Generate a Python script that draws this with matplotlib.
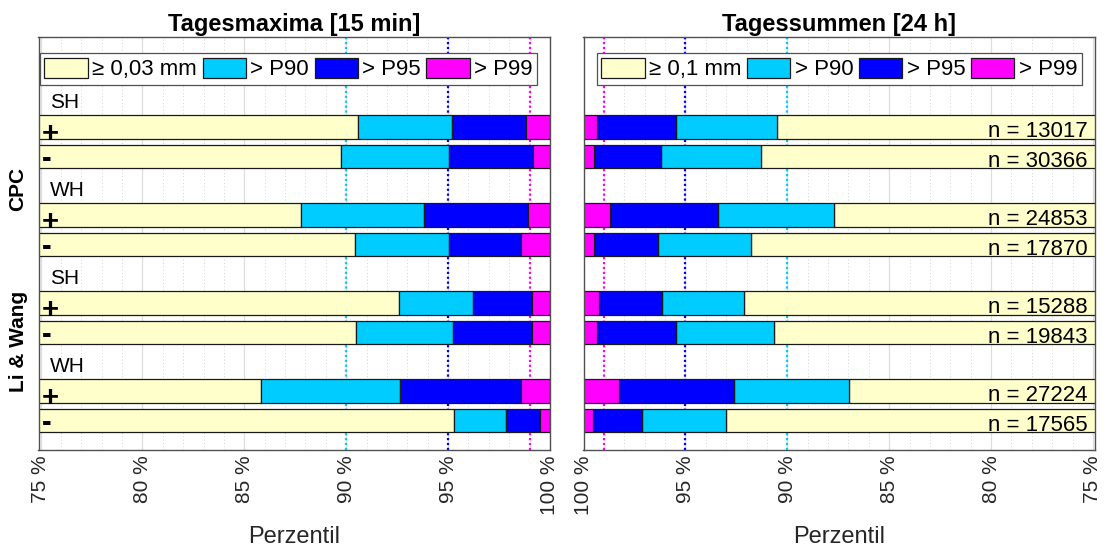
import matplotlib
matplotlib.use("Agg")
import matplotlib.pyplot as plt
from matplotlib.patches import Patch

plt.rcParams['font.family'] = ['Liberation Sans', 'DejaVu Sans']

# Row layout: CPC (SH+, SH-, WH+, WH-), Li & Wang (SH+, SH-, WH+, WH-)
signs = ["+", "-", "+", "-", "+", "-", "+", "-"]
row_pos = [3, 4, 6, 7, 9, 10, 12, 13]
season_labels = ["SH", "WH", "SH", "WH"]
season_label_pos = [2.15, 5.15, 8.15, 11.15]
group_labels = ["CPC", "Li & Wang"]
group_label_pos = [5.1, 10.3]

# Tagesmaxima [15 min]: percentile where each class starts
max_start_p90 = [90.6, 89.75, 87.8, 90.45, 92.6, 90.5, 85.8, 95.3]
max_start_p95 = [95.2, 95.05, 93.8, 95.05, 96.2, 95.25, 92.65, 97.85]
max_start_p99 = [98.8, 99.15, 98.9, 98.6, 99.1, 99.1, 98.6, 99.5]

# Tagessummen [24 h]: percentile where each class starts
sum_start_p90 = [90.5, 91.3, 87.7, 91.8, 92.1, 90.65, 86.95, 93.0]
sum_start_p95 = [95.45, 96.2, 93.4, 96.35, 96.15, 95.45, 92.6, 97.15]
sum_start_p99 = [99.35, 99.5, 98.7, 99.5, 99.25, 99.35, 98.25, 99.55]
n_days = [13017, 30366, 24853, 17870, 15288, 19843, 27224, 17565]

xticks = [75, 80, 85, 90, 95, 100]
ref_levels = [90, 95, 99]

legend_max = ["\u2265 0,03 mm", "> P90", "> P95", "> P99"]
legend_sum = ["\u2265 0,1 mm", "> P90", "> P95", "> P99"]

c_wet = "#FFFFCC"
c_p90 = "#00CCFF"
c_p95 = "#0000FF"
c_p99 = "#FF00FF"
class_colors = [c_wet, c_p90, c_p95, c_p99]
ref_colors = [c_p90, c_p95, c_p99]
edge = "#1a1a1a"
fs = 16

W, H = 1106, 547
fig = plt.figure(figsize=(W / 100, H / 100), dpi=100)
ax_l = fig.add_axes([38.5 / W, 97.4 / H, 511.5 / W, 412.6 / H])
ax_r = fig.add_axes([583.5 / W, 97.4 / H, 511.5 / W, 412.6 / H])


def draw_panel(ax, s90, s95, s99, legend_labels, title, xlim, legend_loc, legend_anchor):
    ax.set_xlim(*xlim)
    ax.set_ylim(14, -0.07)
    ax.set_xticks(xticks)
    ax.set_xticks(range(75, 101), minor=True)
    ax.set_xticklabels([f"{t} %" for t in xticks], rotation=90, fontsize=15, color="#262626")
    ax.set_yticks([])
    ax.tick_params(axis="x", which="both", length=0, pad=4)
    ax.grid(axis="x", which="minor", color="#c4c4c4", lw=0.6, ls=(0, (1, 3)), zorder=0)
    ax.grid(axis="x", which="major", color="#dedede", lw=0.9, ls="-", zorder=0)
    ax.set_axisbelow(True)
    for lvl, col in zip(ref_levels, ref_colors):
        ax.axvline(lvl, color=col, lw=1.6, ls=(0, (1, 1.2)), zorder=1)
    for spine in ax.spines.values():
        spine.set_color("#505050")
        spine.set_linewidth(1.0)

    for y, a, b, c in zip(row_pos, s90, s95, s99):
        lefts = [70, a, b, c]
        rights = [a, b, c, 100]
        for lft, rgt, col in zip(lefts, rights, class_colors):
            ax.barh(y, rgt - lft, left=lft, height=0.8, color=col,
                    edgecolor=edge, linewidth=0.9, zorder=2)

    handles = [Patch(facecolor=col, edgecolor=edge, linewidth=0.9) for col in class_colors]
    leg = ax.legend(handles, legend_labels, ncol=4, loc=legend_loc,
                    bbox_to_anchor=legend_anchor, fontsize=fs, frameon=True,
                    fancybox=False, edgecolor="#505050", framealpha=1,
                    handlelength=1.95, handleheight=1.05, handletextpad=0.2,
                    columnspacing=0.25, borderpad=0.2, borderaxespad=0)
    leg.get_frame().set_linewidth(0.9)
    leg.set_zorder(5)
    ax.set_title(title, fontsize=17, fontweight="bold", pad=4)


draw_panel(ax_l, max_start_p90, max_start_p95, max_start_p99, legend_max,
           "Tagesmaxima [15 min]", (74.9, 100.0), "upper left", (0.003, 0.961))
draw_panel(ax_r, sum_start_p90, sum_start_p95, sum_start_p99, legend_sum,
           "Tagessummen [24 h]", (100.0, 74.9), "upper center", (0.5, 0.961))

# Row annotations on the left panel
sign_offset = {"+": 0.5, "-": 0.38}
for y, s in zip(row_pos, signs):
    ax_l.text(75.05, y + sign_offset[s], s, ha="left", va="baseline", fontsize=21,
              fontweight="bold", zorder=4)
for y, s in zip(season_label_pos, season_labels):
    ax_l.text(75.45, y, s, ha="left", va="center", fontsize=15, zorder=4)

# Sample sizes on the right panel
for y, n in zip(row_pos, n_days):
    ax_r.text(75.25, y + 0.35, f"n = {n}", ha="right", va="baseline", fontsize=fs, zorder=4)

# Group labels
for y, g in zip(group_label_pos, group_labels):
    ax_l.text(-0.04, y, g, transform=ax_l.get_yaxis_transform(), rotation=90,
              ha="center", va="center", fontsize=15, fontweight="bold")

for ax in (ax_l, ax_r):
    bb = ax.get_position()
    fig.text((bb.x0 + bb.x1) / 2, 1 - 537 / H, "Perzentil", ha="center", va="center",
             fontsize=17, color="#262626")

fig.savefig("out.png", dpi=100, facecolor="white")
